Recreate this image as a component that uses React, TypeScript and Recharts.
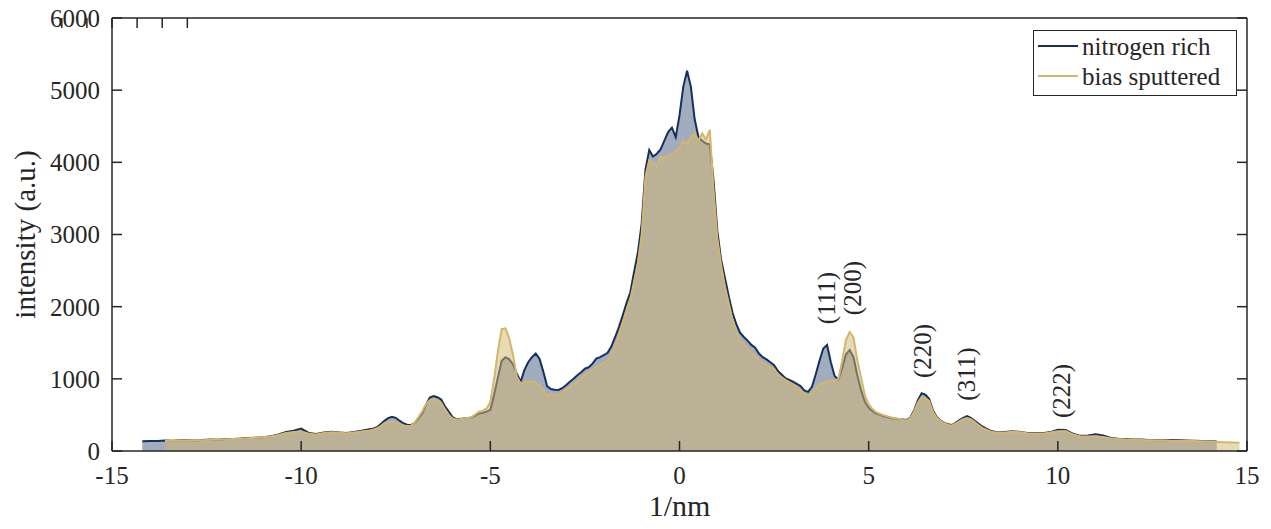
import { AreaChart, Area, XAxis, YAxis, Legend, ReferenceDot } from "recharts";

// spatial frequency (1/nm)
const xs = [
  -14.2, -14.0, -13.8, -13.6, -13.4, -13.2, -13.0, -12.8, -12.6, -12.4,
  -12.2, -12.0, -11.8, -11.6, -11.4, -11.2, -11.0, -10.8, -10.6, -10.4,
  -10.2, -10.0, -9.8, -9.6, -9.4, -9.2, -9.0, -8.8, -8.6, -8.4,
  -8.2,
  -8.1, -8.0, -7.9, -7.8, -7.7, -7.6, -7.5, -7.4, -7.3, -7.2,
  -7.1, -7.0, -6.9, -6.8, -6.7, -6.6, -6.5, -6.4, -6.3, -6.2,
  -6.1, -6.0, -5.9, -5.8, -5.7, -5.6, -5.5, -5.4, -5.3, -5.2,
  -5.1, -5.0, -4.9, -4.8, -4.7, -4.6, -4.5, -4.4, -4.3, -4.2,
  -4.1, -4.0, -3.9, -3.8, -3.7, -3.6, -3.5, -3.4, -3.3, -3.2,
  -3.1, -3.0, -2.9, -2.8, -2.7, -2.6, -2.5, -2.4, -2.3, -2.2,
  -2.1, -2.0, -1.9, -1.8, -1.7, -1.6, -1.5, -1.4, -1.3, -1.2,
  -1.1, -1.0, -0.9, -0.8, -0.7, -0.6, -0.5, -0.4, -0.3, -0.2,
  -0.1, 0.0, 0.1, 0.2, 0.3, 0.4, 0.5, 0.6, 0.7, 0.8,
  0.9, 1.0, 1.1, 1.2, 1.3, 1.4, 1.5, 1.6, 1.7, 1.8,
  1.9, 2.0, 2.1, 2.2, 2.3, 2.4, 2.5, 2.6, 2.7, 2.8,
  2.9, 3.0, 3.1, 3.2, 3.3, 3.4, 3.5, 3.6, 3.7, 3.8,
  3.9, 4.0, 4.1, 4.2, 4.3, 4.4, 4.5, 4.6, 4.7, 4.8,
  4.9, 5.0, 5.1, 5.2, 5.3, 5.4, 5.5, 5.6, 5.7, 5.8,
  5.9, 6.0, 6.1, 6.2, 6.3, 6.4, 6.5, 6.6, 6.7, 6.8,
  6.9, 7.0, 7.1, 7.2, 7.3, 7.4, 7.5, 7.6, 7.7, 7.8,
  7.9, 8.0,
  8.2, 8.4, 8.6, 8.8, 9.0, 9.2, 9.4, 9.6, 9.8, 10.0,
  10.2, 10.4, 10.6, 10.8, 11.0, 11.2, 11.4, 11.6, 11.8, 12.0,
  12.2, 12.4, 12.6, 12.8, 13.0, 13.2, 13.4, 13.6, 13.8, 14.0,
  14.2, 14.4, 14.6, 14.8,
];

const nitrogenRich = [
  135, 140, 138, 145, 142, 148, 150, 147, 152, 158,
  155, 162, 168, 172, 180, 185, 192, 205, 230, 265,
  280, 310, 250, 235, 255, 268, 258, 248, 262, 280,
  300,
  310, 330, 370, 420, 455, 475, 460, 420, 385, 365,
  360, 390, 450, 520, 640, 740, 760, 745, 715, 620,
  545, 470, 440, 445, 450, 455, 465, 490, 520, 530,
  545, 570, 780, 1020, 1250, 1300, 1270, 1200, 1070, 960,
  1120, 1230, 1300, 1350, 1280, 1100, 900, 860, 850, 845,
  870, 910, 960, 1000, 1050, 1090, 1140, 1160, 1210, 1280,
  1300, 1330, 1360, 1450, 1580, 1720, 1880, 2050, 2200, 2480,
  2750, 3150, 3900, 4170, 4080, 4120, 4180, 4300, 4420, 4480,
  4350, 4650, 5050, 5270, 5050, 4600, 4350, 4300, 4260, 4250,
  3750, 3050, 2650, 2400, 2150, 1920, 1760, 1640, 1580, 1530,
  1470, 1430, 1350, 1300, 1270, 1230, 1190, 1110, 1060, 1010,
  985, 960, 930, 900, 840, 820, 890, 1060, 1250, 1420,
  1470, 1230, 1040, 990, 1150, 1340, 1400, 1300, 1050, 840,
  680, 600, 550, 520, 500, 480, 470, 455, 450, 440,
  435, 430, 460, 560, 700, 800, 780, 720, 560, 470,
  420, 390, 370, 360, 390, 430, 460, 485, 460, 420,
  380, 340,
  285, 258, 262, 275, 265, 250, 248, 245, 262, 295,
  290, 240, 210, 215, 232, 215, 180, 170, 165, 160,
  158, 152, 150, 148, 152, 150, 145, 142, 140, 135,
  130, null, null, null,
];

const biasSputtered = [
  null, null, null, 140, 142, 145, 146, 150, 150, 155,
  158, 160, 165, 170, 176, 182, 190, 200, 222, 250,
  262, 270, 240, 230, 248, 260, 252, 245, 255, 270,
  285,
  295, 315, 345, 385, 400, 405, 395, 375, 355, 345,
  350, 395, 470, 550, 650, 705, 715, 700, 670, 580,
  500, 450, 435, 440, 448, 455, 470, 505, 545, 555,
  590, 680, 1000, 1380, 1690, 1700, 1560, 1330, 1030, 940,
  950, 965, 960, 955, 900, 850, 760, 790, 770, 780,
  810, 845, 880, 930, 960, 1010, 1060, 1090, 1120, 1165,
  1190, 1220, 1250, 1330, 1450, 1600, 1780, 1950, 2100, 2350,
  2600, 3000, 3800, 4030, 3990, 3950, 4080, 4060, 4100, 4110,
  4150, 4200, 4300, 4260, 4350, 4400, 4300, 4400, 4320, 4450,
  3620, 2950, 2580, 2280, 2050, 1820, 1660, 1540, 1480, 1420,
  1360, 1320, 1260, 1220, 1190, 1160, 1140, 1060, 1020, 985,
  950, 915, 880, 845, 780, 755, 800, 870, 920, 945,
  960, 980, 965, 1000, 1250, 1540, 1650, 1570, 1260, 1020,
  770, 650, 580, 540, 515, 495, 480, 465, 455, 445,
  430, 425, 450, 545, 670, 750, 730, 695, 540, 460,
  415, 385, 360, 355, 380, 415, 440, 455, 440, 400,
  360, 320,
  275, 250, 255, 268, 260, 245, 243, 240, 255, 275,
  278, 230, 200, 200, 205, 195, 175, 165, 160, 155,
  152, 148, 146, 145, 143, 140, 138, 137, 135, 130,
  125, 122, 118, 115,
];

const xTicks = [-15, -10, -5, 0, 5, 10, 15];
const yTicks = [0, 1000, 2000, 3000, 4000, 5000, 6000];

const peakLabels = ["(111)", "(200)", "(220)", "(311)", "(222)"];
const peakX = [3.87, 4.56, 6.41, 7.57, 10.08];
const peakLabelY = [2120, 2258, 1386, 1067, 831];

const seriesNames = ["nitrogen rich", "bias sputtered"];
const seriesColors = ["#15305f", "#d4b56e"];

const data = xs.map((x, i) => ({
  x,
  nitrogen: nitrogenRich[i],
  bias: biasSputtered[i],
}));

const FONT = '"Liberation Serif", "Times New Roman", serif';
const INK = "#262626";
const TICK_LEN = 10;

// matlab style: ticks point inward on all four sides
const BottomTick = (props: any) => {
  const { x, y, payload } = props;
  return (
    <g>
      <line x1={x} y1={y - 15} x2={x} y2={y - 15 - TICK_LEN} stroke={INK} strokeWidth={1.5} />
      <text x={x} y={y} dy="0.71em" textAnchor="middle" fill={INK} fontSize={25} fontFamily={FONT}>
        {payload.value}
      </text>
    </g>
  );
};

const LeftTick = (props: any) => {
  const { x, y, payload } = props;
  return (
    <g>
      <line x1={x + 12} y1={y} x2={x + 12 + TICK_LEN} y2={y} stroke={INK} strokeWidth={1.5} />
      <text x={x} y={y} dy="0.355em" textAnchor="end" fill={INK} fontSize={25} fontFamily={FONT}>
        {payload.value}
      </text>
    </g>
  );
};

const TopTick = (props: any) => {
  const { x, y } = props;
  return <line x1={x} y1={y} x2={x} y2={y + TICK_LEN} stroke={INK} strokeWidth={1.5} />;
};

const RightTick = (props: any) => {
  const { x, y } = props;
  return <line x1={x - TICK_LEN} y1={y} x2={x} y2={y} stroke={INK} strokeWidth={1.5} />;
};

const LegendBox = () => (
  <div
    style={{
      width: 204,
      height: 66,
      boxSizing: "border-box",
      border: `1.5px solid ${INK}`,
      background: "#fff",
      paddingLeft: 4,
      fontFamily: FONT,
      fontSize: 25,
      color: INK,
    }}
  >
    {seriesNames.map((name, i) => (
      <div key={name} style={{ display: "flex", alignItems: "center", height: 30 }}>
        <svg width={40} height={4}>
          <line x1={0} y1={2} x2={40} y2={2} stroke={seriesColors[i]} strokeWidth={2} />
        </svg>
        <span style={{ marginLeft: 4, lineHeight: 1 }}>{name}</span>
      </div>
    ))}
  </div>
);

const axisLine = { stroke: INK, strokeWidth: 1.5 };

export default function App() {
  return (
    <div style={{ width: 1271, height: 529, margin: -8, fontFamily: FONT }}>
      <AreaChart
        width={1271}
        height={529}
        data={data}
        margin={{ top: 17, right: 23, bottom: 8, left: 8 }}
      >
        <XAxis
          xAxisId="bottom"
          dataKey="x"
          type="number"
          domain={[-15, 15]}
          ticks={xTicks}
          allowDataOverflow
          height={70}
          tickSize={0}
          tickMargin={15}
          axisLine={axisLine}
          tickLine={false}
          tick={<BottomTick />}
          label={{ value: "1/nm", position: "insideBottom", offset: 5, fontSize: 30, fill: INK, fontFamily: FONT }}
        />
        <XAxis
          xAxisId="top"
          orientation="top"
          type="number"
          domain={[-15, 15]}
          ticks={xTicks}
          allowDataOverflow
          height={1}
          tickSize={0}
          tickMargin={0}
          axisLine={axisLine}
          tickLine={false}
          tick={<TopTick />}
        />
        <YAxis
          yAxisId="left"
          type="number"
          domain={[0, 6000]}
          ticks={yTicks}
          allowDataOverflow
          width={104}
          tickSize={0}
          tickMargin={12}
          axisLine={axisLine}
          tickLine={false}
          tick={<LeftTick />}
          label={{
            value: "intensity (a.u.)",
            angle: -90,
            position: "insideLeft",
            offset: 17,
            fontSize: 29,
            fill: INK,
            fontFamily: FONT,
            style: { textAnchor: "middle" },
          }}
        />
        <YAxis
          yAxisId="right"
          orientation="right"
          type="number"
          domain={[0, 6000]}
          ticks={yTicks}
          allowDataOverflow
          width={1}
          tickSize={0}
          tickMargin={0}
          axisLine={axisLine}
          tickLine={false}
          tick={<RightTick />}
        />
        <Area
          xAxisId="bottom"
          yAxisId="left"
          type="linear"
          dataKey="nitrogen"
          name={seriesNames[0]}
          stroke={seriesColors[0]}
          strokeWidth={2}
          fill={seriesColors[0]}
          fillOpacity={0.4}
          dot={false}
          activeDot={false}
          isAnimationActive={false}
        />
        <Area
          xAxisId="bottom"
          yAxisId="left"
          type="linear"
          dataKey="bias"
          name={seriesNames[1]}
          stroke={seriesColors[1]}
          strokeWidth={2}
          fill={seriesColors[1]}
          fillOpacity={0.5}
          dot={false}
          activeDot={false}
          isAnimationActive={false}
        />
        {peakLabels.map((text, i) => (
          <ReferenceDot
            key={text}
            xAxisId="bottom"
            yAxisId="left"
            x={peakX[i]}
            y={peakLabelY[i]}
            r={1}
            fill="none"
            stroke="none"
            label={{ value: text, angle: -90, position: "center", fontSize: 25, fill: INK, fontFamily: FONT }}
          />
        ))}
        <Legend
          layout="vertical"
          align="center"
          verticalAlign="middle"
          content={() => <LegendBox />}
          wrapperStyle={{ top: 30, left: 1033, width: 204, height: 66 }}
        />
      </AreaChart>
    </div>
  );
}
